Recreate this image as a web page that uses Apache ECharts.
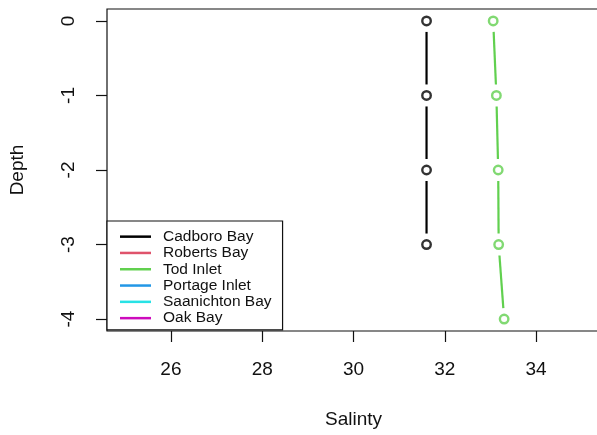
<!DOCTYPE html>
<html>
<head>
<meta charset="utf-8">
<script src="https://cdn.jsdelivr.net/npm/echarts@6/dist/echarts.min.js"></script>
<style>
  html, body { margin: 0; padding: 0; background: #fff; }
  #chart { width: 597px; height: 435px; }
</style>
</head>
<body>
<div id="chart"></div>
<script>
// Salinity profiles by site (depth in metres, negative downward)
const sites = ['Cadboro Bay', 'Roberts Bay', 'Tod Inlet', 'Portage Inlet', 'Saanichton Bay', 'Oak Bay'];
const siteColors = ['#000000', '#DF536B', '#61D04F', '#2297E6', '#28E2E5', '#CD0BBC'];

const cadboroDepth = [0, -1, -2, -3];
const cadboroSalinity = [31.6, 31.6, 31.6, 31.6];
const robertsDepth = [];
const robertsSalinity = [];
const todDepth = [0, -1, -2, -3, -4];
const todSalinity = [33.06, 33.13, 33.17, 33.18, 33.30];
const portageDepth = [];
const portageSalinity = [];
const saanichtonDepth = [];
const saanichtonSalinity = [];
const oakDepth = [];
const oakSalinity = [];

const xTicks = [26, 28, 30, 32, 34];
const yTicks = [0, -1, -2, -3, -4];

const profiles = [
  [cadboroSalinity, cadboroDepth],
  [robertsSalinity, robertsDepth],
  [todSalinity, todDepth],
  [portageSalinity, portageDepth],
  [saanichtonSalinity, saanichtonDepth],
  [oakSalinity, oakDepth]
];

const FONT = '"Liberation Sans", Arial, sans-serif';
const GAP = 11; // space left between a segment end and its point

const series = [];
sites.forEach(function (name, k) {
  const xs = profiles[k][0], ys = profiles[k][1];
  const data = xs.map(function (v, i) { return [v, ys[i]]; });
  const color = siteColors[k];
  // connecting segments, stopped short of each point
  series.push({
    name: name,
    type: 'custom',
    itemStyle: { color: color },
    data: data,
    renderItem: function (params, api) {
      const i = params.dataIndex;
      if (i === 0) return null;
      const a = api.coord(data[i - 1]);
      const b = api.coord(data[i]);
      const dx = b[0] - a[0], dy = b[1] - a[1];
      const len = Math.sqrt(dx * dx + dy * dy);
      if (len <= 2 * GAP) return null;
      const ux = dx / len, uy = dy / len;
      return {
        type: 'line',
        shape: { x1: a[0] + ux * GAP, y1: a[1] + uy * GAP, x2: b[0] - ux * GAP, y2: b[1] - uy * GAP },
        style: { stroke: color, lineWidth: 2.2 }
      };
    }
  });
  if (data.length) {
    series.push({
      name: name,
      type: 'scatter',
      data: data,
      symbol: 'circle',
      symbolSize: 8.5,
      itemStyle: { color: '#fff', borderColor: color, borderWidth: 2.4 },
      z: 3
    });
  }
});

const chart = echarts.init(document.getElementById('chart'));
chart.setOption({
  animation: false,
  backgroundColor: '#fff',
  grid: {
    left: 107, top: 9, width: 493, height: 322,
    outerBoundsMode: 'none',
    containLabel: false,
    show: true, borderColor: '#111', borderWidth: 1.2, backgroundColor: 'transparent'
  },
  xAxis: {
    type: 'value',
    min: 24.6, max: 35.4,
    name: 'Salinty',
    nameLocation: 'middle',
    nameGap: 79,
    nameTextStyle: { fontFamily: FONT, fontSize: 19, color: '#111' },
    axisLine: { show: false, onZero: false },
    axisTick: { show: true, length: 11, customValues: xTicks, lineStyle: { color: '#111', width: 1.2 } },
    axisLabel: { customValues: xTicks, margin: 29, fontFamily: FONT, fontSize: 19, color: '#111' },
    splitLine: { show: false }
  },
  yAxis: {
    type: 'value',
    min: -4.16, max: 0.16,
    name: 'Depth',
    nameLocation: 'middle',
    nameRotate: 90,
    nameGap: 80,
    nameTextStyle: { fontFamily: FONT, fontSize: 19, color: '#111' },
    axisLine: { show: false, onZero: false },
    axisTick: { show: true, length: 11, customValues: yTicks, lineStyle: { color: '#111', width: 1.2 } },
    axisLabel: { customValues: yTicks, rotate: 90, margin: 29, fontFamily: FONT, fontSize: 19, color: '#111' },
    splitLine: { show: false }
  },
  legend: {
    data: sites,
    orient: 'vertical',
    left: 107, top: 221,
    padding: [7.5, 11, 3.5, 13],
    itemGap: 0,
    icon: 'rect',
    itemWidth: 31, itemHeight: 2.5,
    itemStyle: { borderWidth: 0 },
    backgroundColor: '#fff',
    borderColor: '#111', borderWidth: 1.2, borderRadius: 0,
    selectedMode: false,
    textStyle: { fontFamily: FONT, fontSize: 15.5, lineHeight: 16.3, color: '#111', padding: [0, 0, 0, 7] }
  },
  series: series
});
</script>
</body>
</html>
